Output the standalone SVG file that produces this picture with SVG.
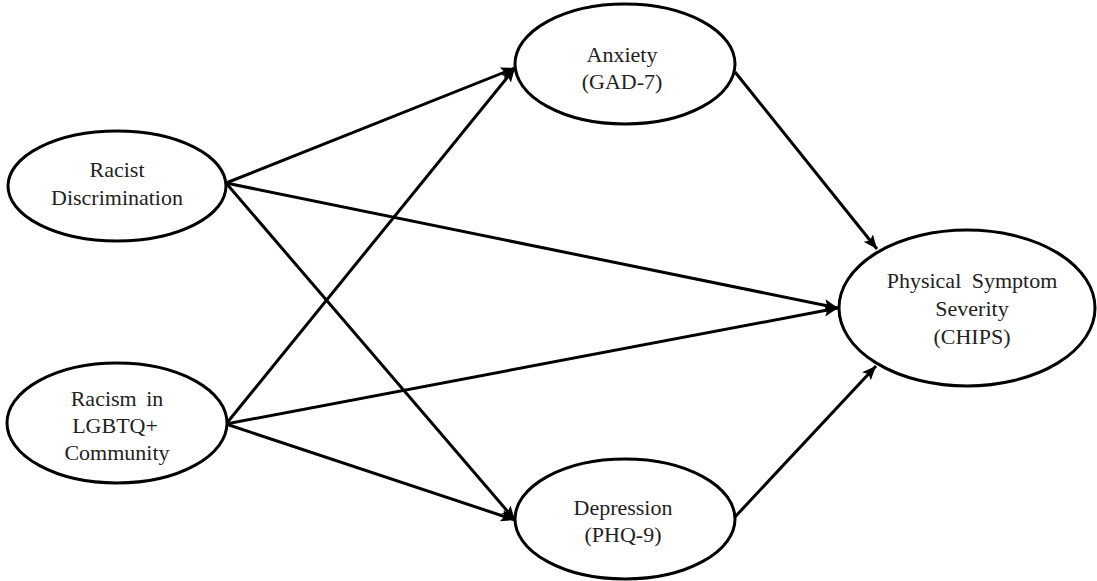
<svg xmlns="http://www.w3.org/2000/svg" width="1097" height="581" viewBox="0 0 1097 581">
<style>
.node{fill:#fff;stroke:#000;stroke-width:3}
.lbl{font-family:"Liberation Serif","Times New Roman",serif;font-size:22px;fill:#222;text-anchor:middle}
.edge{stroke:#000;stroke-width:3;fill:none;marker-end:url(#arr)}
</style>
<defs>
<marker id="arr" markerUnits="userSpaceOnUse" markerWidth="16" markerHeight="14" refX="14" refY="6" orient="auto">
<path d="M0,0 L14,6 L0,12 L3,6 Z" fill="#000"/>
</marker>
</defs>
<rect width="1097" height="581" fill="#fff"/>
<g id="connectors">
<line class="edge" x1="226" y1="183" x2="515" y2="68"/>
<line class="edge" x1="226" y1="183" x2="838" y2="308"/>
<line class="edge" x1="226" y1="183" x2="515" y2="520"/>
<line class="edge" x1="226" y1="424" x2="515" y2="68"/>
<line class="edge" x1="226" y1="424" x2="838" y2="308"/>
<line class="edge" x1="226" y1="424" x2="515" y2="520"/>
<line class="edge" x1="735" y1="72" x2="877" y2="249"/>
<line class="edge" x1="734" y1="518" x2="876" y2="366"/>
</g>
<g id="racist">
<ellipse class="node" cx="117" cy="186" rx="109" ry="55"/>
<text class="lbl" x="117" y="177">Racist</text>
<text class="lbl" x="117" y="205">Discrimination</text>
</g>
<g id="lgbtq">
<ellipse class="node" cx="117" cy="423" rx="110" ry="60"/>
<text class="lbl" x="117" y="406" word-spacing="4">Racism in</text>
<text class="lbl" x="115" y="433">LGBTQ+</text>
<text class="lbl" x="117" y="460">Community</text>
</g>
<g id="anxiety">
<ellipse class="node" cx="625" cy="64" rx="110" ry="60"/>
<text class="lbl" x="622" y="62">Anxiety</text>
<text class="lbl" x="622" y="89">(GAD-7)</text>
</g>
<g id="depression">
<ellipse class="node" cx="625" cy="519" rx="110" ry="60"/>
<text class="lbl" x="623" y="515">Depression</text>
<text class="lbl" x="623" y="542">(PHQ-9)</text>
</g>
<g id="physical">
<ellipse class="node" cx="967" cy="308" rx="128" ry="78"/>
<text class="lbl" x="972" y="288" word-spacing="5">Physical Symptom</text>
<text class="lbl" x="972" y="316">Severity</text>
<text class="lbl" x="972" y="344">(CHIPS)</text>
</g>
</svg>
